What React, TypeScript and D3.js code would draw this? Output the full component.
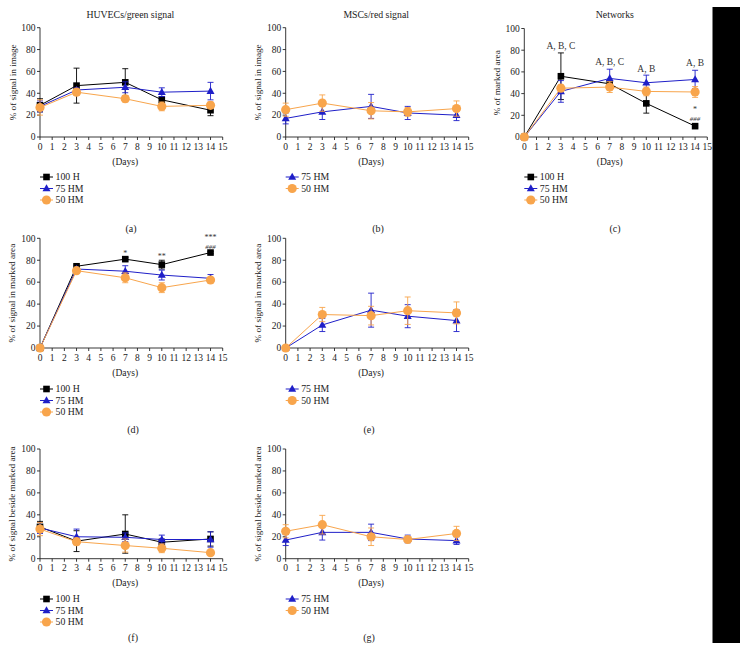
import React from "react";
import * as d3 from "d3";

const days = [0, 3, 7, 10, 14];
const xTicks = d3.range(0, 16);
const yTicks = [0, 20, 40, 60, 80, 100];

// (a) HUVECs/green signal
const aH100 = [29, 47, 50, 34, 24.5];
const aH100Err = [6, 16, 12.5, 3, 5];
const aHM75 = [28, 43, 45.5, 41, 42];
const aHM75Err = [5, 2, 5, 4, 8];
const aHM50 = [27, 41, 35, 28, 29];
const aHM50Err = [7, 3, 3, 4, 3];

// (b) MSCs/red signal
const bHM75 = [17, 23, 28, 22, 20];
const bHM75Err = [5, 7, 11, 6, 5];
const bHM50 = [25, 31, 24, 23, 26];
const bHM50Err = [6, 7.5, 7.5, 4, 7];

// (c) Networks
const cH100 = [0, 56, 49, 31, 10];
const cH100Err = [0, 21.5, 3, 9, 1];
const cHM75 = [0, 42, 54, 50, 53];
const cHM75Err = [0, 10, 8.5, 7, 8.5];
const cHM50 = [0, 45, 46, 42, 41.5];
const cHM50Err = [0, 3, 5, 4, 5];

// (d)
const dH100 = [0, 74.5, 81, 76, 87];
const dH100Err = [0, 1, 1.5, 4, 1];
const dHM75 = [0, 72, 70, 66.5, 63.5];
const dHM75Err = [0, 1, 5, 4.5, 3.5];
const dHM50 = [0, 70.5, 64, 55, 62];
const dHM50Err = [0, 1, 4.5, 4.5, 2];

// (e)
const eHM75 = [0, 21, 34.5, 29, 25];
const eHM75Err = [0, 6, 15.5, 10.5, 10];
const eHM50 = [0, 30.5, 29.5, 34, 32];
const eHM50Err = [0, 6.5, 8.5, 12.5, 10];

// (f)
const fH100 = [29, 16, 22.5, 15, 18];
const fH100Err = [5, 9.5, 17.5, 3, 6.5];
const fHM75 = [28, 20, 19.5, 17.5, 17.5];
const fHM75Err = [5, 7, 4, 4, 7];
const fHM50 = [27, 15.5, 12, 9.5, 5.5];
const fHM50Err = [6, 3, 6, 4, 1];

// (g)
const gHM75 = [17, 24, 24, 18, 16.5];
const gHM75Err = [5, 7, 7.5, 3.5, 3.5];
const gHM50 = [25, 31, 20, 17.5, 23];
const gHM50Err = [6, 8.5, 8, 2, 6.5];

const seriesNames = ["100 H", "75 HM", "50 HM"];
const BLACK = "#000000";
const BLUE = "#1f1fc8";
const ORANGE = "#f8a54c";
const FONT = "Liberation Serif, Times New Roman, serif";

type Series = { name: string; kind: "square" | "triangle" | "circle"; color: string; values: number[]; errs: number[] };
type Ann = { day: number; dy: number; text: string; size?: number; italic?: boolean };
type Panel = {
  letter: string; title?: string; ylabel: string;
  x0: number; x1: number; yTop: number; yBot: number;
  ylabelX: number; legendY: number; letterX: number; letterY: number;
  series: Series[]; anns?: Ann[];
};

const H100 = (v: number[], e: number[]): Series => ({ name: seriesNames[0], kind: "square", color: BLACK, values: v, errs: e });
const HM75 = (v: number[], e: number[]): Series => ({ name: seriesNames[1], kind: "triangle", color: BLUE, values: v, errs: e });
const HM50 = (v: number[], e: number[]): Series => ({ name: seriesNames[2], kind: "circle", color: ORANGE, values: v, errs: e });

const panels: Panel[] = [
  { letter: "(a)", title: "HUVECs/green signal", ylabel: "% of signal in image", x0: 40, x1: 222.7, yTop: 27.7, yBot: 137, ylabelX: 13, legendY: 177, letterX: 131, letterY: 228,
    series: [H100(aH100, aH100Err), HM75(aHM75, aHM75Err), HM50(aHM50, aHM50Err)] },
  { letter: "(b)", title: "MSCs/red signal", ylabel: "% of signal in image", x0: 285.7, x1: 468.7, yTop: 27.7, yBot: 137, ylabelX: 258, legendY: 177, letterX: 378, letterY: 228,
    series: [HM75(bHM75, bHM75Err), HM50(bHM50, bHM50Err)] },
  { letter: "(c)", title: "Networks", ylabel: "% of marked area", x0: 524.3, x1: 707.3, yTop: 28.5, yBot: 137, ylabelX: 497, legendY: 177, letterX: 615, letterY: 228,
    series: [H100(cH100, cH100Err), HM75(cHM75, cHM75Err), HM50(cHM50, cHM50Err)],
    anns: [
      { day: 3, dy: 81, text: "A, B, C", size: 9.5 },
      { day: 7, dy: 66, text: "A, B, C", size: 9.5 },
      { day: 10, dy: 60, text: "A, B", size: 9.5 },
      { day: 14, dy: 65, text: "A, B", size: 9.5 },
      { day: 14, dy: 23, text: "*", size: 8 },
      { day: 14, dy: 15, text: "###", size: 7, italic: true },
    ] },
  { letter: "(d)", ylabel: "% of signal in marked area", x0: 40, x1: 222.7, yTop: 238.3, yBot: 348, ylabelX: 12, legendY: 389, letterX: 133, letterY: 429,
    series: [H100(dH100, dH100Err), HM75(dHM75, dHM75Err), HM50(dHM50, dHM50Err)],
    anns: [
      { day: 7, dy: 83.5, text: "*", size: 8 },
      { day: 10, dy: 81, text: "**", size: 8 },
      { day: 14, dy: 98, text: "***", size: 8 },
      { day: 14, dy: 90.7, text: "###", size: 7, italic: true },
    ] },
  { letter: "(e)", ylabel: "% of signal in marked area", x0: 285.7, x1: 468.7, yTop: 238.3, yBot: 348, ylabelX: 258, legendY: 389, letterX: 369, letterY: 429,
    series: [HM75(eHM75, eHM75Err), HM50(eHM50, eHM50Err)] },
  { letter: "(f)", ylabel: "% of signal beside marked area", x0: 40, x1: 222.7, yTop: 449, yBot: 558.7, ylabelX: 12, legendY: 599, letterX: 133, letterY: 637,
    series: [H100(fH100, fH100Err), HM75(fHM75, fHM75Err), HM50(fHM50, fHM50Err)] },
  { letter: "(g)", ylabel: "% of signal beside marked area", x0: 285.7, x1: 468.7, yTop: 449, yBot: 558.7, ylabelX: 258, legendY: 599, letterX: 369, letterY: 637,
    series: [HM75(gHM75, gHM75Err), HM50(gHM50, gHM50Err)] },
];

function Marker({ kind, color, x, y }: { kind: string; color: string; x: number; y: number }) {
  if (kind === "square") return <rect x={x - 3.3} y={y - 3.3} width={6.6} height={6.6} fill={color} />;
  if (kind === "triangle") {
    const p = d3.path();
    p.moveTo(x, y - 4.3); p.lineTo(x + 4, y + 2.8); p.lineTo(x - 4, y + 2.8); p.closePath();
    return <path d={p.toString()} fill={color} />;
  }
  return <circle cx={x} cy={y} r={4.6} fill={color} />;
}

function PanelView({ p }: { p: Panel }) {
  const x = d3.scaleLinear().domain([0, 15]).range([p.x0, p.x1]);
  const y = d3.scaleLinear().domain([0, 100]).range([p.yBot, p.yTop]);
  const line = d3.line<number>().x((_, i) => x(days[i])).y((v) => y(v));
  const cx = (p.x0 + p.x1) / 2;
  return (
    <g fontFamily={FONT} fill="#222">
      {p.title && <text x={cx - 1} y={17.5} textAnchor="middle" fontSize={9.8}>{p.title}</text>}
      <line x1={p.x0} x2={p.x0} y1={p.yBot} y2={p.yTop} stroke="#222" strokeWidth={0.9} />
      <line x1={p.x0} x2={p.x1} y1={p.yBot} y2={p.yBot} stroke="#222" strokeWidth={0.9} />
      {yTicks.map((t) => (
        <g key={"y" + t}>
          <line x1={p.x0 - 3} x2={p.x0} y1={y(t)} y2={y(t)} stroke="#222" strokeWidth={0.9} />
          <text x={p.x0 - 4.5} y={y(t) + 3.3} textAnchor="end" fontSize={9.5}>{t}</text>
        </g>
      ))}
      {xTicks.map((t) => (
        <g key={"x" + t}>
          <line x1={x(t)} x2={x(t)} y1={p.yBot} y2={p.yBot + 3} stroke="#222" strokeWidth={0.9} />
          <text x={x(t)} y={p.yBot + 12.5} textAnchor="middle" fontSize={9.5}>{t}</text>
        </g>
      ))}
      <text x={x(7)} y={p.yBot + 27.5} textAnchor="middle" fontSize={9.5}>(Days)</text>
      <text transform={`translate(${p.ylabelX},${(p.yBot + p.yTop) / 2}) rotate(-90)`} textAnchor="middle" fontSize={9.2} dy="0.35em">{p.ylabel}</text>
      {p.series.map((s) => (
        <g key={s.name}>
          <path d={line(s.values) || ""} fill="none" stroke={s.color} strokeWidth={1} />
          {s.values.map((v, i) => s.errs[i] > 0 ? (
            <g key={i} stroke={s.color} strokeWidth={0.9}>
              <line x1={x(days[i])} x2={x(days[i])} y1={y(v - s.errs[i])} y2={y(v + s.errs[i])} />
              <line x1={x(days[i]) - 3} x2={x(days[i]) + 3} y1={y(v + s.errs[i])} y2={y(v + s.errs[i])} />
              <line x1={x(days[i]) - 3} x2={x(days[i]) + 3} y1={y(v - s.errs[i])} y2={y(v - s.errs[i])} />
            </g>
          ) : null)}
          {s.values.map((v, i) => <Marker key={"m" + i} kind={s.kind} color={s.color} x={x(days[i])} y={y(v)} />)}
        </g>
      ))}
      {(p.anns || []).map((a, i) => (
        <text key={"a" + i} x={x(a.day)} y={y(a.dy)} textAnchor="middle" fontSize={a.size || 9} fontStyle={a.italic ? "italic" : "normal"} fill="#333">{a.text}</text>
      ))}
      {p.series.map((s, i) => {
        const ly = p.legendY + i * 11.5;
        return (
          <g key={"l" + s.name}>
            <line x1={p.x0} x2={p.x0 + 13} y1={ly} y2={ly} stroke={s.color} strokeWidth={1} />
            <Marker kind={s.kind} color={s.color} x={p.x0 + 6.5} y={ly} />
            <text x={p.x0 + 15.5} y={ly + 3.4} fontSize={9.8}>{s.name}</text>
          </g>
        );
      })}
      <text x={p.letterX} y={p.letterY + 3.5} textAnchor="middle" fontSize={10}>{p.letter}</text>
    </g>
  );
}

export default function App() {
  return (
    <svg width={747} height={650} style={{ position: "absolute", left: 0, top: 0, background: "#fff" }}>
      <rect x={0} y={0} width={747} height={650} fill="#fff" />
      {panels.map((p) => <PanelView key={p.letter} p={p} />)}
      <rect x={712.5} y={7} width={27.5} height={636} fill="#000" />
    </svg>
  );
}
